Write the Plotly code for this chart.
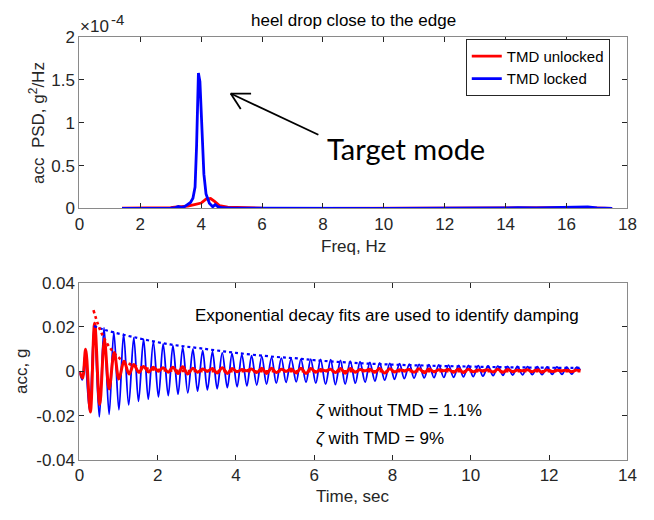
import plotly.graph_objects as go

# ---------------- PSD (top) ----------------
psd_freq_unlocked = [1.40, 2.0, 2.5, 3.0, 3.13, 3.3, 3.56, 3.78, 4.0, 4.16, 4.31, 4.44, 4.6, 4.87,
                     5.31, 6.0, 8.0, 10.0, 12.0, 14.0, 15.5, 16.2, 16.5, 16.8, 17.2, 17.5]
psd_unlocked = [0.002, 0.003, 0.005, 0.010, 0.015, 0.018, 0.026, 0.045, 0.063, 0.108, 0.115, 0.082,
                0.033, 0.015, 0.007, 0.003, 0.001, 0.001, 0.001, 0.004, 0.004, 0.008, 0.010, 0.007,
                0.003, 0.0]

psd_freq_locked = [1.40, 2.0, 2.5, 3.0, 3.15, 3.25, 3.35, 3.45, 3.55, 3.65, 3.73, 3.80, 3.85, 3.88,
                   3.91, 3.96, 4.02, 4.09, 4.16, 4.27, 4.38, 4.46, 4.55, 4.70, 5.0, 6.0, 8.0, 10.0,
                   12.0, 13.0, 13.6, 14.0, 14.4, 15.0, 15.6, 16.0, 16.4, 16.7, 17.0, 17.5]
psd_locked = [0.0, 0.0, 0.001, 0.004, 0.010, 0.022, 0.012, 0.020, 0.045, 0.070, 0.120, 0.250, 0.730,
              1.350, 1.580, 1.480, 0.920, 0.400, 0.170, 0.060, 0.020, 0.045, 0.020, 0.008, 0.004,
              0.002, 0.001, 0.001, 0.002, 0.004, 0.008, 0.012, 0.008, 0.005, 0.008, 0.013, 0.020,
              0.018, 0.007, 0.0]

# ---------------- Time histories (bottom), local extrema ----------------
locked_t = [0.00, 0.075, 0.14, 0.26,
            0.38, 0.51, 0.63, 0.76, 0.88, 1.01, 1.13, 1.26, 1.39, 1.51,
            1.64, 1.76, 1.89, 2.02, 2.14, 2.27, 2.39, 2.52, 2.64, 2.77,
            2.90, 3.02, 3.15, 3.27, 3.40, 3.52, 3.65, 3.78, 3.90, 4.03,
            4.15, 4.28, 4.40, 4.53, 4.66, 4.78, 4.91, 5.03, 5.16, 5.28,
            5.41, 5.54, 5.66, 5.79, 5.91, 6.04, 6.16, 6.29, 6.42, 6.54,
            6.67, 6.79, 6.92, 7.05, 7.17, 7.30, 7.42, 7.55, 7.67, 7.80,
            7.93, 8.05, 8.18, 8.30, 8.43, 8.55, 8.68, 8.81, 8.93, 9.06,
            9.18, 9.31, 9.43, 9.56, 9.69, 9.81, 9.94, 10.06, 10.19, 10.31,
            10.44, 10.57, 10.69, 10.82, 10.94, 11.07, 11.19, 11.32, 11.45, 11.57,
            11.70, 11.82, 11.95, 12.08, 12.20, 12.33, 12.45, 12.58,
            12.70, 12.80]
locked_acc = [0.0, -0.0039, 0.0070, -0.0177,
              0.0207, -0.0206, 0.0197, -0.0194, 0.0178, -0.0174, 0.0168, -0.0152, 0.0152, -0.0136,
              0.0145, -0.0126, 0.0133, -0.0116, 0.0124, -0.0110, 0.0115, -0.0104, 0.0108, -0.0097,
              0.0100, -0.0090, 0.0093, -0.0084, 0.0088, -0.0079, 0.0083, -0.0074, 0.0079, -0.0070,
              0.0075, -0.0066, 0.0071, -0.0062, 0.0067, -0.0058, 0.0063, -0.0054, 0.0059, -0.0050,
              0.0056, -0.0048, 0.0055, -0.0050, 0.0055, -0.0054, 0.0054, -0.0058, 0.0052, -0.0060,
              0.0049, -0.0058, 0.0046, -0.0054, 0.0043, -0.0049, 0.0040, -0.0044, 0.0038, -0.0040,
              0.0036, -0.0036, 0.0034, -0.0033, 0.0032, -0.0031, 0.0031, -0.0030, 0.0030, -0.0029,
              0.0029, -0.0028, 0.0028, -0.0027, 0.0027, -0.0025, 0.0026, -0.0024, 0.0025, -0.0022,
              0.0024, -0.0020, 0.0023, -0.0018, 0.0022, -0.0017, 0.0022, -0.0016, 0.0021, -0.0015,
              0.0021, -0.0015, 0.0020, -0.0014, 0.0020, -0.0014, 0.0019, -0.0013,
              0.0018, 0.0006]

unlocked_t = [0.00, 0.08, 0.16, 0.28, 0.39, 0.52, 0.64, 0.76, 0.89, 1.01, 1.14, 1.27, 1.39, 1.52,
              1.64, 1.77, 1.89, 2.02, 2.14, 2.27, 2.39, 2.52, 2.64, 2.77,
              2.90, 3.02, 3.15, 3.27, 3.40, 3.52, 3.65, 3.78, 3.90, 4.03,
              4.15, 4.28, 4.40, 4.53, 4.66, 4.78, 4.91, 5.03, 5.16, 5.28,
              5.41, 5.54, 5.66, 5.79, 5.91, 6.04, 6.16, 6.29, 6.42, 6.54,
              6.67, 6.79, 6.92, 7.05, 7.17, 7.30, 7.42, 7.55, 7.67, 7.80,
              7.93, 8.05, 8.18, 8.30, 8.43, 8.55, 8.68, 8.81, 8.93, 9.06,
              9.18, 9.31, 9.43, 9.56, 9.69, 9.81, 9.94, 10.06, 10.19, 10.31,
              10.44, 10.57, 10.69, 10.82, 10.94, 11.07, 11.19, 11.32, 11.45, 11.57,
              11.70, 11.82, 11.95, 12.08, 12.20, 12.33, 12.45, 12.58,
              12.70, 12.80]
unlocked_acc = [0.0, -0.0030, 0.0099, -0.0184, 0.0217, -0.0150, 0.0140, -0.0080, 0.0085, -0.0035,
                0.0045, -0.0012, 0.0030, -0.0005, 0.0022, -0.0003, 0.0018, 0.0000,
                0.0016, -0.0004, 0.0018, -0.0010, 0.0020, -0.0012,
                0.0014, -0.0004, 0.0010, 0.0000, 0.0012, -0.0008, 0.0016, -0.0010, 0.0012, -0.0002,
                0.0008, 0.0002, 0.0010, -0.0006, 0.0014, -0.0010, 0.0014, -0.0006, 0.0009, 0.0000,
                0.0010, -0.0008, 0.0014, -0.0010, 0.0012, -0.0004, 0.0008, 0.0002, 0.0009, -0.0006,
                0.0013, -0.0009, 0.0012, -0.0004, 0.0008, 0.0002, 0.0009, -0.0005, 0.0012, -0.0008,
                0.0011, -0.0003, 0.0007, 0.0002, 0.0008, -0.0004, 0.0011, -0.0007, 0.0010, -0.0003,
                0.0007, 0.0002, 0.0008, -0.0004, 0.0010, -0.0006, 0.0009, -0.0002, 0.0006, 0.0002,
                0.0007, -0.0003, 0.0009, -0.0005, 0.0008, -0.0002, 0.0006, 0.0002, 0.0007, -0.0002,
                0.0008, -0.0004, 0.0007, -0.0001, 0.0005, 0.0002, 0.0006, -0.0002,
                0.0006, 0.0003]

# exponential decay fit envelopes
fit_locked_t = [0.37, 0.66, 1.49, 2.32, 3.07, 4.0, 5.0, 5.57, 6.0, 7.0, 8.0, 9.0, 10.0, 11.0, 12.0, 12.8]
fit_locked = [0.0204, 0.0186, 0.0150, 0.0121, 0.0104, 0.0083, 0.0065, 0.0058, 0.0050, 0.0038,
              0.0030, 0.0025, 0.0021, 0.0018, 0.0016, 0.0015]
fit_unlocked_t = [0.36, 0.47, 0.57, 0.78, 1.03, 1.28, 1.53, 1.80, 2.20, 3.0, 5.0, 8.0, 12.8]
fit_unlocked = [0.0276, 0.0215, 0.0171, 0.0106, 0.0058, 0.0033, 0.0019, 0.0010, 0.0004, 0.0001,
                0.0, 0.0, 0.0]

assert len(locked_t) == len(locked_acc), (len(locked_t), len(locked_acc))
assert len(unlocked_t) == len(unlocked_acc), (len(unlocked_t), len(unlocked_acc))

freq_ticks = [0, 2, 4, 6, 8, 10, 12, 14, 16, 18]
psd_ticks = [0, 0.5, 1, 1.5, 2]
psd_tick_text = ["0", "0.5", "1", "1.5", "2"]
time_ticks = [0, 2, 4, 6, 8, 10, 12, 14]
acc_ticks = [-0.04, -0.02, 0, 0.02, 0.04]
acc_tick_text = ["-0.04", "-0.02", "0", "0.02", "0.04"]

RED = "#ff0000"
BLUE = "#0000ff"
FONT = "Liberation Sans, Arial, sans-serif"
TXT = "#262626"
FS = 17

fig = go.Figure()
fig.add_trace(go.Scatter(x=psd_freq_unlocked, y=psd_unlocked, mode="lines", name="TMD unlocked",
                         line=dict(color=RED, width=2.8), xaxis="x", yaxis="y"))
fig.add_trace(go.Scatter(x=psd_freq_locked, y=psd_locked, mode="lines", name="TMD locked",
                         line=dict(color=BLUE, width=2.8), xaxis="x", yaxis="y"))

fig.add_trace(go.Scatter(x=locked_t, y=locked_acc, mode="lines", showlegend=False,
                         line=dict(color=BLUE, width=1.8, shape="spline", smoothing=1.0),
                         xaxis="x2", yaxis="y2"))
fig.add_trace(go.Scatter(x=unlocked_t, y=unlocked_acc, mode="lines", showlegend=False,
                         line=dict(color=RED, width=3, shape="spline", smoothing=1.0),
                         xaxis="x2", yaxis="y2"))
fig.add_trace(go.Scatter(x=fit_locked_t, y=fit_locked, mode="lines", showlegend=False,
                         line=dict(color=BLUE, width=2.2, dash="dot", shape="spline"),
                         xaxis="x2", yaxis="y2"))
fig.add_trace(go.Scatter(x=fit_unlocked_t, y=fit_unlocked, mode="lines", showlegend=False,
                         line=dict(color=RED, width=2.6, dash="dot", shape="spline"),
                         xaxis="x2", yaxis="y2"))

W, H = 654, 520
X0, X1 = 76 / W, 636 / W
axis_common = dict(showline=True, linecolor="#8a8a8a", linewidth=1, mirror="ticks",
                   ticks="inside", ticklen=5, tickwidth=1, tickcolor=TXT,
                   showgrid=False, zeroline=False,
                   tickfont=dict(family=FONT, size=FS, color=TXT))

fig.update_layout(
    width=W, height=H,
    margin=dict(l=0, r=0, t=0, b=0),
    paper_bgcolor="white", plot_bgcolor="white",
    font=dict(family=FONT, size=FS, color=TXT),
    xaxis=dict(domain=[X0, X1], anchor="y", range=[0, 18], tickvals=freq_ticks, **axis_common),
    yaxis=dict(domain=[1 - 207 / H, 1 - 29 / H], anchor="x", range=[0, 2],
               tickvals=psd_ticks, ticktext=psd_tick_text, **axis_common),
    xaxis2=dict(domain=[X0, X1], anchor="y2", range=[0, 14], tickvals=time_ticks, **axis_common),
    yaxis2=dict(domain=[1 - 468 / H, 1 - 284 / H], anchor="x2", range=[-0.04, 0.04],
                tickvals=acc_ticks, ticktext=acc_tick_text, **axis_common),
    legend=dict(x=618 / W, y=1 - 31 / H, xanchor="right", yanchor="top",
                bgcolor="white", bordercolor=TXT, borderwidth=1,
                font=dict(family=FONT, size=15, color="#000000"),
                tracegroupgap=0),
    showlegend=True,
)

xc = (X0 + X1) / 2


def note(text, x, y, size=FS, color=TXT, xref="paper", yref="paper", xa="center", ya="middle", **kw):
    return dict(text=text, x=x, y=y, xref=xref, yref=yref, xanchor=xa, yanchor=ya,
                showarrow=False, font=dict(family=kw.pop("family", FONT), size=size, color=color), **kw)


annotations = [
    note("heel drop close to the edge", xc, 1 - 12 / H, color="#000000"),
    note("×10", 75 / W, 1 - 18 / H, xa="left"),
    note("-4", 106 / W, 1 - 11 / H, size=15, xa="left"),
    note("Freq, Hz", xc, 1 - 246 / H),
    note("Time, sec", xc, 1 - 506 / H),
    note("acc  PSD, g<sup>2</sup>/Hz", 32 / W, 1 - 118 / H, textangle=-90),
    note("acc, g", 17 / W, 1 - 376 / H, textangle=-90),
    note("Target mode", 10.72, 0.70, size=29, color="#000000", xref="x", yref="y",
         family="Lato, Open Sans, sans-serif"),
    note("Exponential decay fits are used to identify damping", 7.86, 0.0250, color="#000000",
         xref="x2", yref="y2"),
    note("<i>ζ</i> without TMD = 1.1%", 6.0, -0.0178, color="#000000", xref="x2", yref="y2", xa="left"),
    note("<i>ζ</i> with TMD = 9%", 6.0, -0.0303, color="#000000", xref="x2", yref="y2", xa="left"),
]

# open arrow pointing at the target mode: shaft plus two barbs
arrow_head = (4.97, 1.34)
arrow_tail = (7.85, 0.86)
barb_upper = (5.64, 1.34)
barb_lower = (5.30, 1.16)
shapes = [
    dict(type="line", xref="x", yref="y", x0=arrow_tail[0], y0=arrow_tail[1],
         x1=arrow_head[0], y1=arrow_head[1], line=dict(color="#000000", width=1.8)),
    dict(type="line", xref="x", yref="y", x0=arrow_head[0], y0=arrow_head[1],
         x1=barb_upper[0], y1=barb_upper[1], line=dict(color="#000000", width=1.8)),
    dict(type="line", xref="x", yref="y", x0=arrow_head[0], y0=arrow_head[1],
         x1=barb_lower[0], y1=barb_lower[1], line=dict(color="#000000", width=1.8)),
]
fig.update_layout(annotations=annotations, shapes=shapes)

fig.write_html("out.html", config={"displayModeBar": False},
               post_script="document.body.style.margin='0px';")
